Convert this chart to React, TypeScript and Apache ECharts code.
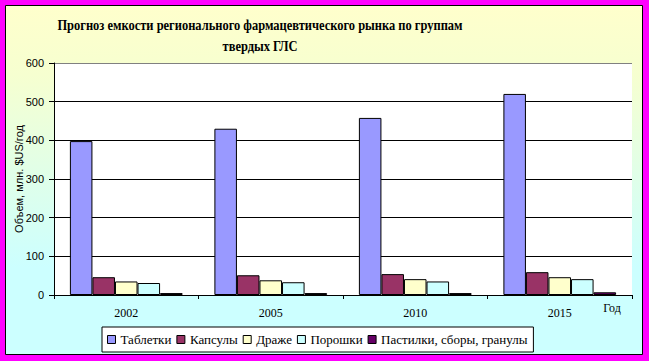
import React, { useEffect, useRef } from "react";
import * as echarts from "echarts";

const years = ["2002", "2005", "2010", "2015"];
const seriesNames = ["Таблетки", "Капсулы", "Драже", "Порошки", "Пастилки, сборы, гранулы"];
const tablets = [398, 430, 458, 520];
const capsules = [46, 51, 54, 59];
const dragee = [35, 38, 41, 46];
const powders = [31, 33, 35, 41];
const pastilles = [5, 5, 5, 7];
const colors = ["#9999FF", "#993366", "#FFFFCC", "#CCFFFF", "#660066"];
const titleLines = ["Прогноз емкости регионального фармацевтического рынка по группам", "твердых ГЛС"];
const yAxisTitle = "Объем, млн. $US/год";
const xAxisTitle = "Год";

export default function App() {
  const ref = useRef<HTMLDivElement>(null);
  useEffect(() => {
    if (!ref.current) return;
    const chart = echarts.init(ref.current, null, { renderer: "svg" });
    const data = [tablets, capsules, dragee, powders, pastilles];
    chart.setOption({
      animation: false,
      backgroundColor: "#FF00FF",
      graphic: [
        {
          type: "rect",
          z: -10,
          silent: true,
          shape: { x: 5.5, y: 5.5, width: 637, height: 349 },
          style: {
            fill: new echarts.graphic.LinearGradient(0, 0, 0, 1, [
              { offset: 0, color: "#FFFFCC" },
              { offset: 0.2, color: "#F6FFD0" },
              { offset: 0.75, color: "#CCFFFF" },
              { offset: 1, color: "#CCFFFF" },
            ]),
            stroke: "#000",
            lineWidth: 1,
          },
        },
        {
          type: "text",
          x: 260,
          y: 15,
          scaleX: 0.89,
          style: {
            text: titleLines.join("\n"),
            font: "bold 14px 'Liberation Serif'",
            fill: "#000",
            align: "center",
            lineHeight: 21,
          },
          z: 5,
        },
        {
          type: "text",
          x: 612,
          y: 308,
          style: {
            text: xAxisTitle,
            font: "12px 'Liberation Serif'",
            fill: "#000",
            align: "center",
            verticalAlign: "middle",
          },
          z: 5,
        },
      ],
      grid: {
        left: 54,
        right: 17,
        top: 63,
        bottom: 66,
        outerBoundsMode: "none",
        containLabel: false,
        show: true,
        backgroundColor: "#FFFFFF",
        borderWidth: 0,
      },
      legend: {
        data: seriesNames,
        left: 102,
        top: 327,
        padding: [6, 6, 6, 5],
        itemWidth: 8,
        itemHeight: 8,
        itemGap: 5,
        icon: "rect",
        borderColor: "#000",
        borderWidth: 1,
        backgroundColor: "#FFFFFF",
        borderRadius: 0,
        itemStyle: { borderColor: "#000", borderWidth: 1 },
        textStyle: { fontFamily: "Liberation Serif", fontSize: 13, color: "#000" },
      },
      xAxis: {
        type: "category",
        data: years,
        axisLine: { lineStyle: { color: "#000", width: 1 } },
        axisTick: { show: true, length: 4, lineStyle: { color: "#000" } },
        axisLabel: { fontFamily: "Liberation Serif", fontSize: 12, color: "#000", margin: 12 },
        splitLine: { show: false },
      },
      yAxis: {
        type: "value",
        min: 0,
        max: 600,
        interval: 100,
        name: yAxisTitle,
        nameLocation: "middle",
        nameRotate: 90,
        nameGap: 30,
        nameMoveOverlap: false,
        nameTextStyle: { fontFamily: "Liberation Sans", fontSize: 11, color: "#000" },
        axisLine: { show: true, lineStyle: { color: "#000", width: 1 } },
        axisTick: { show: true, length: 5, lineStyle: { color: "#000" } },
        axisLabel: { fontFamily: "Liberation Sans", fontSize: 11, color: "#000", margin: 10 },
        splitLine: {
          show: true,
          lineStyle: { color: ["#000", "#000", "#000", "#000", "#000", "#000", "#808080"], width: 1 },
        },
      },
      series: seriesNames.map((name, i) => ({
        name,
        type: "bar",
        data: data[i],
        barGap: 0,
        barCategoryGap: "22%",
        itemStyle: { color: colors[i], borderColor: "#000", borderWidth: 1 },
      })),
    });
    return () => chart.dispose();
  }, []);
  return (
    <div
      ref={ref}
      style={{ position: "fixed", left: 0, top: 0, width: 649, height: 361 }}
    />
  );
}
